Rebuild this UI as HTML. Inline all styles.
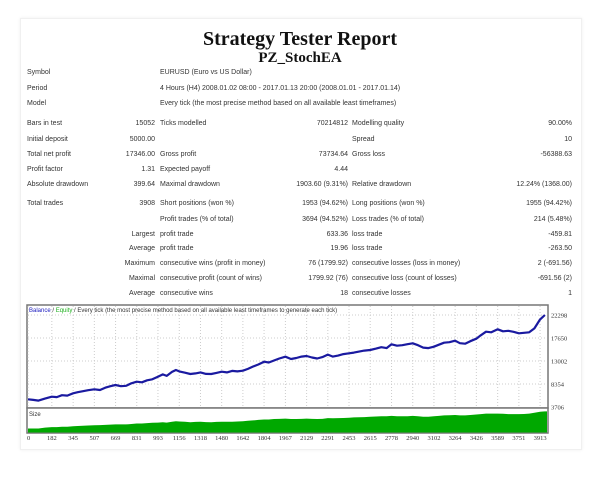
<!DOCTYPE html>
<html><head><meta charset="utf-8"><style>
body{margin:0;background:#fff;width:600px;height:491px;overflow:hidden;font-family:"Liberation Sans",sans-serif;}
#card{position:absolute;left:20px;top:18px;width:560px;height:430px;border:1px solid #f0f0f0;box-shadow:0 0 3px #eee;}
.t{position:absolute;font-size:7px;color:#333;white-space:nowrap;}
.r{text-align:right;}
#title{position:absolute;left:0;width:600px;top:28px;text-align:center;font-family:"Liberation Serif",serif;font-weight:bold;font-size:20px;color:#111;}
#sub{position:absolute;left:0;width:600px;top:50px;text-align:center;font-family:"Liberation Serif",serif;font-weight:bold;font-size:15px;color:#111;}
svg{position:absolute;left:0;top:0;}
</style></head><body>
<div id="card"></div>
<div id="title">Strategy Tester Report</div>
<div id="sub">PZ_StochEA</div>
<div id="tbl"></div>
<svg id="chart" width="600" height="491"></svg>
<script>
const rows=[
[74,"Symbol","","EURUSD (Euro vs US Dollar)","","",""],
[90,"Period","","4 Hours (H4) 2008.01.02 08:00 - 2017.01.13 20:00 (2008.01.01 - 2017.01.14)","","",""],
[105,"Model","","Every tick (the most precise method based on all available least timeframes)","","",""],
[125,"Bars in test","15052","Ticks modelled","70214812","Modelling quality","90.00%"],
[141,"Initial deposit","5000.00","","","Spread","10"],
[156,"Total net profit","17346.00","Gross profit","73734.64","Gross loss","-56388.63"],
[171,"Profit factor","1.31","Expected payoff","4.44","",""],
[186,"Absolute drawdown","399.64","Maximal drawdown","1903.60 (9.31%)","Relative drawdown","12.24% (1368.00)"],
[205,"Total trades","3908","Short positions (won %)","1953 (94.62%)","Long positions (won %)","1955 (94.42%)"],
[221,"","","Profit trades (% of total)","3694 (94.52%)","Loss trades (% of total)","214 (5.48%)"],
[236,"","Largest","profit trade","633.36","loss trade","-459.81"],
[250,"","Average","profit trade","19.96","loss trade","-263.50"],
[265,"","Maximum","consecutive wins (profit in money)","76 (1799.92)","consecutive losses (loss in money)","2 (-691.56)"],
[280,"","Maximal","consecutive profit (count of wins)","1799.92 (76)","consecutive loss (count of losses)","-691.56 (2)"],
[295,"","Average","consecutive wins","18","consecutive losses","1"]];
const tbl=document.getElementById('tbl');
rows.forEach((r,i)=>{
 const cells=[[27,r[1],0],[155,r[2],1],[160,r[3],0],[348,r[4],1],[352,r[5],0],[572,r[6],1]];
 cells.forEach((c,j)=>{ if(!c[1])return;
  const d=document.createElement('div');
  d.className='t'+(c[2]?' r':'');
  
  
  d.textContent=c[1];
  d.style.top=(r[0]-5)+'px';
  if(c[2]){d.style.left=(c[0]-150)+'px';d.style.width='150px';}else d.style.left=c[0]+'px';
  tbl.appendChild(d);});
});
</script>
<script>
const trades=[0,40,80,130,182,220,260,300,345,380,420,460,507,550,590,630,669,710,750,790,831,870,910,950,993,1030,1060,1100,1130,1156,1200,1240,1280,1318,1360,1400,1440,1480,1520,1560,1600,1642,1680,1720,1760,1804,1840,1880,1920,1967,2010,2050,2090,2129,2170,2210,2250,2291,2330,2370,2410,2453,2490,2530,2570,2615,2660,2700,2740,2778,2820,2860,2900,2940,2980,3020,3060,3102,3140,3180,3220,3264,3300,3340,3380,3426,3460,3500,3540,3589,3630,3670,3710,3751,3790,3830,3870,3913,3950];
const balance=[5260,5150,5000,5400,5790,5700,6100,6000,6480,6700,6900,7100,7280,7150,7600,7900,8150,7900,8000,8500,8820,8700,9100,9300,9830,10300,10000,10800,11180,10900,10640,10380,10500,10700,10400,10380,10600,10840,10700,11000,10900,11040,11400,11900,12300,12860,12700,13100,13500,13870,13400,13600,13900,14010,13700,13500,13800,14300,13900,14100,14400,14560,14700,14900,15100,15230,15500,15800,15600,16380,16100,16200,16400,16580,16200,15700,15600,15890,16300,16700,16800,17100,16600,16500,17000,17500,18200,18920,18800,19400,19000,19100,18900,18600,18700,18800,19600,21400,22298];
const sizes=[0.45,0.45,0.45,0.55,0.6,0.6,0.65,0.65,0.7,0.72,0.75,0.78,0.8,0.82,0.85,0.88,0.9,0.9,0.9,0.95,1.0,1.0,1.05,1.08,1.1,1.15,1.1,1.2,1.25,1.22,1.2,1.15,1.18,1.2,1.16,1.15,1.18,1.2,1.2,1.2,1.22,1.25,1.3,1.35,1.4,1.45,1.45,1.5,1.52,1.55,1.5,1.5,1.52,1.55,1.52,1.5,1.52,1.6,1.58,1.6,1.62,1.65,1.68,1.7,1.72,1.75,1.78,1.8,1.8,1.85,1.82,1.8,1.82,1.85,1.8,1.75,1.75,1.8,1.85,1.9,1.92,1.95,1.9,1.9,1.95,2.0,2.05,2.1,2.1,2.1,2.08,2.05,2.05,2.05,2.06,2.1,2.2,2.3,2.35];
const yTicks=[22298,17650,13002,8354,3706];
const xTicks=[0,182,345,507,669,831,993,1156,1318,1480,1642,1804,1967,2129,2291,2453,2615,2778,2940,3102,3264,3426,3589,3751,3913];
const svg=document.getElementById('chart');const NS='http://www.w3.org/2000/svg';
const X=t=>28+t/162*21.2;
const Y=v=>407-(v-3706)/4648*23;
const SY=s=>432.5-s/2.45*22;
function mk(tag,attrs,parent){const e=document.createElementNS(NS,tag);for(const k in attrs)e.setAttribute(k,attrs[k]);(parent||svg).appendChild(e);return e;}
let e;
e=mk('rect',{x:27,y:305,width:521,height:103,fill:'#fff',stroke:'#777','stroke-width':1.5});


e=mk('rect',{x:27,y:408,width:521,height:25,fill:'#fff',stroke:'#777','stroke-width':1.5});


xTicks.forEach((t,i)=>{
 e=mk('line',{x1:X(t),x2:X(t),y1:306,y2:407,stroke:'#ccc','stroke-dasharray':'1,2'});
 
 
 e=mk('text',{x:i==0?X(t)-1:X(t),y:440,'font-size':6.5,'text-anchor':i==0?'start':'middle',fill:'#333','font-family':'Liberation Serif, serif'});
 e.textContent=t;
 
 
});
yTicks.forEach(v=>{
 if(v>3706){e=mk('line',{x1:28,x2:547,y1:Y(v),y2:Y(v),stroke:'#ccc','stroke-dasharray':'1,2'});
 
 }
 e=mk('text',{x:551,y:Y(v)+2.5,'font-size':6.5,fill:'#333','font-family':'Liberation Serif, serif'});
 e.textContent=v;
 
 
});
let a='M28,432.5';
trades.forEach((t,i)=>a+=' L'+X(t).toFixed(1)+','+SY(sizes[i]).toFixed(1));
a+=' L547,'+SY(sizes[sizes.length-1]).toFixed(1)+' L547,432.5 Z';
e=mk('path',{d:a,fill:'#00a800'});


let p='';trades.forEach((t,i)=>p+=(i?' L':'M')+X(t).toFixed(1)+','+Y(balance[i]).toFixed(1));
e=mk('path',{d:p,fill:'none',stroke:'#1a1aa0','stroke-width':2.2,'stroke-linejoin':'round'});


e=mk('text',{x:29,y:312,'font-size':6,fill:'#333'});


e.innerHTML='<tspan fill="#2020c0">Balance</tspan> / <tspan fill="#20b020">Equity</tspan> / Every tick (the most precise method based on all available least timeframes to generate each tick)';
e=mk('text',{x:29,y:416,'font-size':6,fill:'#333'});
e.textContent='Size';


</script>
</body></html>
